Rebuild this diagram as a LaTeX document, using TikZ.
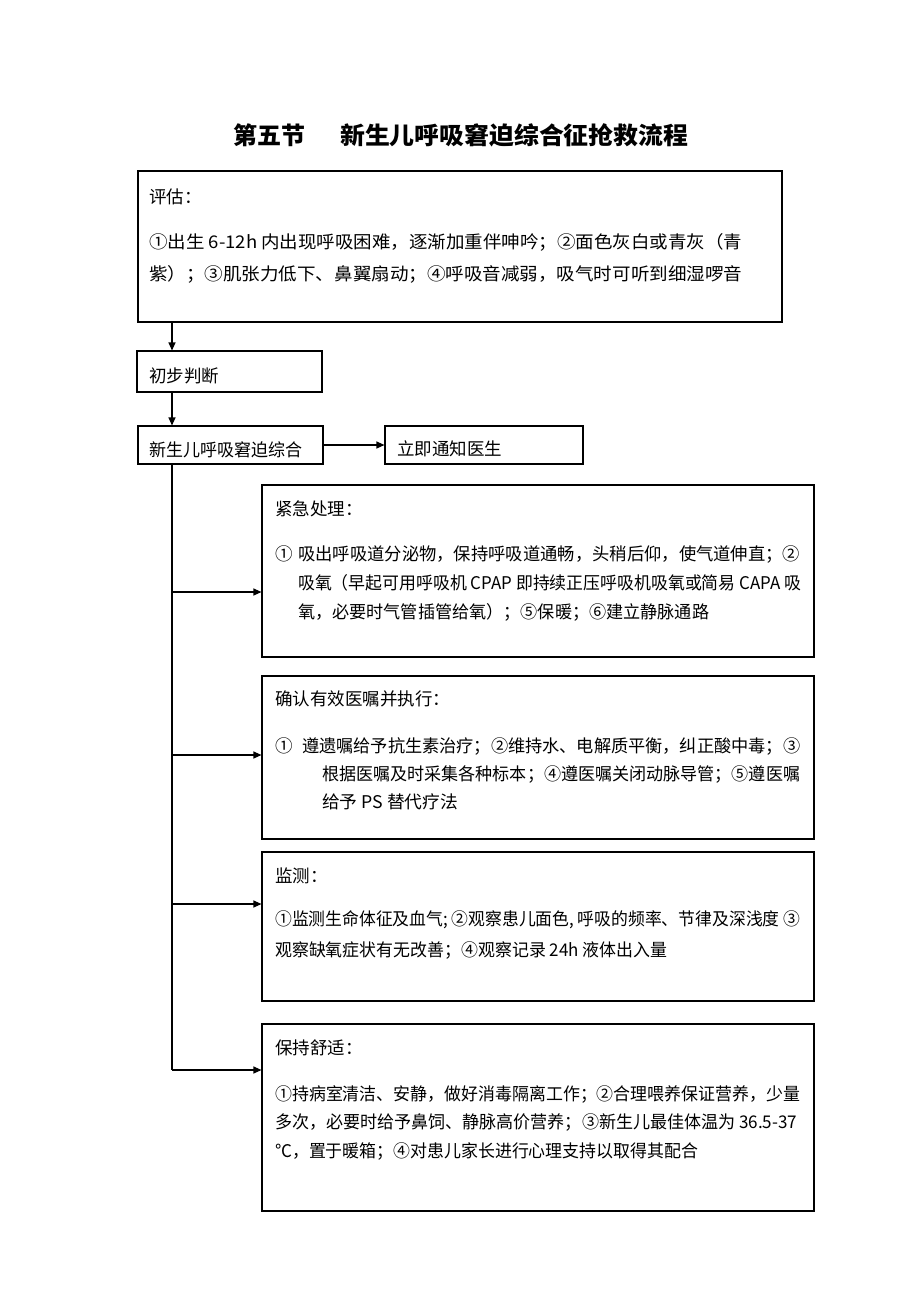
\documentclass[tikz,border=0pt]{standalone}
\usepackage{fontspec}
\usepackage{graphicx}
\setmainfont{Noto Sans CJK SC}
\usetikzlibrary{arrows.meta}
\newcommand{\fw}[2]{\resizebox{#1pt}{\height}{#2}}
\begin{document}
\begin{tikzpicture}[x=1pt,y=-1pt,
  box/.style={draw, line width=1.1pt, inner sep=0pt, rectangle},
  txt/.style={anchor=base west, inner sep=0pt, font=\fontsize{17.5}{24}\selectfont},
  ttl/.style={anchor=base west, inner sep=0pt, font=\fontsize{24}{30}\selectfont\bfseries},
  arr/.style={line width=1.1pt, -{Triangle[length=8pt,width=7pt]}},
  ln/.style={line width=1.1pt}]
\useasboundingbox (0,0) rectangle (920,1302);
% title
\node[ttl] (t1) at (233,144) {\fw{72}{第五节}};
\node[ttl] (t2) at (340,144) {\fw{348}{新生儿呼吸窘迫综合征抢救流程}};
% boxes
\node[box, minimum width=644, minimum height=151] (b1) at (460,246.5) {};
\node[box, minimum width=185, minimum height=41] (b2) at (229.5,371.5) {};
\node[box, minimum width=185, minimum height=38] (b3) at (230.5,445) {};
\node[box, minimum width=198, minimum height=38] (b4) at (484,445) {};
\node[box, minimum width=552, minimum height=172] (b5) at (538,571) {};
\node[box, minimum width=552, minimum height=163] (b6) at (538,757.5) {};
\node[box, minimum width=552, minimum height=149] (b7) at (538,926.5) {};
\node[box, minimum width=552, minimum height=187] (b8) at (538,1117.5) {};
% box 1 text
\node[txt] (b1t) at (149,203) {评估：};
\node[txt] (b1l1) at (149,248) {\fw{593}{①出生 6-12h 内出现呼吸困难，逐渐加重伴呻吟；②面色灰白或青灰（青}};
\node[txt] (b1l2) at (149,280) {\fw{593}{紫）；③肌张力低下、鼻翼扇动；④呼吸音减弱，吸气时可听到细湿啰音}};
% box 2,3,4
\node[txt] (b2t) at (149,382) {初步判断};
\node[txt] (b3t) at (149,456) {\fw{153}{新生儿呼吸窘迫综合}};
\node[txt] (b4t) at (397,455) {立即通知医生};
% box 5
\node[txt] (b5t) at (275,515) {紧急处理：};
\node[txt] (b5n) at (275,560) {①};
\node[txt] (b5l1) at (298,560) {\fw{502}{吸出呼吸道分泌物，保持呼吸道通畅，头稍后仰，使气道伸直；②}};
\node[txt] (b5l2) at (298,589) {\fw{503}{吸氧（早起可用呼吸机 CPAP 即持续正压呼吸机吸氧或简易 CAPA 吸}};
\node[txt] (b5l3) at (298,618) {\fw{411}{氧，必要时气管插管给氧）；⑤保暖；⑥建立静脉通路}};
% box 6
\node[txt] (b6t) at (275,705) {确认有效医嘱并执行：};
\node[txt] (b6n) at (275,752) {①};
\node[txt] (b6l1) at (302,752) {\fw{498}{遵遗嘱给予抗生素治疗；②维持水、电解质平衡，纠正酸中毒；③}};
\node[txt] (b6l2) at (322,780) {\fw{478}{根据医嘱及时采集各种标本；④遵医嘱关闭动脉导管；⑤遵医嘱}};
\node[txt] (b6l3) at (322,808) {\fw{136}{给予 PS 替代疗法}};
% box 7
\node[txt] (b7t) at (275,882) {监测：};
\node[txt] (b7l1) at (275,925) {\fw{525}{①监测生命体征及血气; ②观察患儿面色, 呼吸的频率、节律及深浅度 ③}};
\node[txt] (b7l2) at (275,956) {\fw{392}{观察缺氧症状有无改善；④观察记录 24h 液体出入量}};
% box 8
\node[txt] (b8t) at (275,1054) {保持舒适：};
\node[txt] (b8l1) at (275,1100) {\fw{525}{①持病室清洁、安静，做好消毒隔离工作；②合理喂养保证营养，少量}};
\node[txt] (b8l2) at (275,1128) {\fw{522}{多次，必要时给予鼻饲、静脉高价营养；③新生儿最佳体温为 36.5-37}};
\node[txt] (b8l3) at (275,1157) {\fw{423}{℃，置于暖箱；④对患儿家长进行心理支持以取得其配合}};
% connectors
\coordinate (sx) at (172,0);
\coordinate (j5) at (172,592);
\coordinate (j6) at (172,755);
\coordinate (j7) at (172,904);
\coordinate (j8) at (172,1070);
\draw[arr] (b1.south -| sx) -- (b2.north -| sx);
\draw[arr] (b2.south -| sx) -- (b3.north -| sx);
\draw[arr] (b3.east) -- (b4.west);
\draw[ln] (b3.south -| sx) -- (j8);
\draw[arr] (j5) -- (j5 -| b5.west);
\draw[arr] (j6) -- (j6 -| b6.west);
\draw[arr] (j7) -- (j7 -| b7.west);
\draw[arr] (j8) -- (j8 -| b8.west);
\end{tikzpicture}
\end{document}
